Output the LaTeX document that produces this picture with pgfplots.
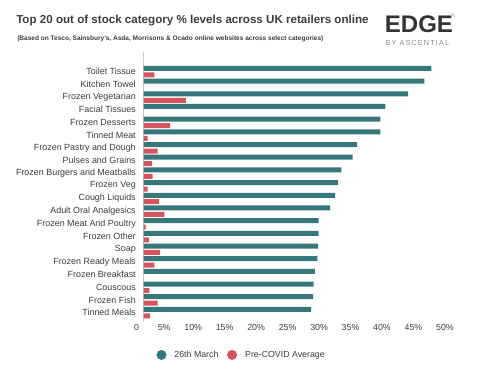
\documentclass[border=0pt]{standalone}
\usepackage{fontspec}
\setmainfont{Liberation Sans}
\usepackage{pgfplots}
\pgfplotsset{compat=1.18}
\usepackage{pgfplotstable}
\definecolor{edgeteal}{RGB}{53,119,122}
\definecolor{edgered}{RGB}{217,83,92}
\definecolor{txt}{RGB}{60,60,60}
\pgfplotstableread{
y march pre
19 45.7 1.7
18 44.6 0
17 42.0 6.7
16 38.4 0
15 37.6 4.2
14 37.6 0.6
13 33.9 2.2
12 33.2 1.3
11 31.4 1.4
10 30.9 0.6
9 30.4 2.4
8 29.6 3.3
7 27.8 0.3
6 27.8 0.8
5 27.7 2.6
4 27.6 1.7
3 27.2 0
2 27.0 0.9
1 26.9 2.2
0 26.6 1.0
}\data
\begin{document}
\begin{tikzpicture}
\path[use as bounding box] (0,0) rectangle (360pt,-282.75pt);
\node[anchor=west, inner sep=0pt, font=\bfseries\fontsize{8.7}{10}\selectfont, text=txt] at (12pt,-15.4pt) {Top 20 out of stock category \% levels across UK retailers online};
\node[anchor=west, inner sep=0pt, font=\bfseries\fontsize{4.9}{5.5}\selectfont, text=txt] at (12.75pt,-29pt) {(Based on Tesco, Sainsbury's, Asda, Morrisons \& Ocado online websites across select categories)};
\node[anchor=west, inner sep=0pt, font=\bfseries\fontsize{18}{20}\selectfont, text=black!80] at (288.5pt,-18.5pt) {EDGE};
\node[anchor=west, inner sep=0pt, font=\fontsize{7}{8}\selectfont, text=black!40] at (338pt,-13pt) {\textasciicircum};
\node[anchor=west, inner sep=0pt, font=\fontsize{5.5}{6}\selectfont\addfontfeatures{LetterSpace=15}, text=black!45] at (289pt,-32pt) {BY ASCENTIAL};
\begin{axis}[
  at={(107.8pt,-39pt)}, anchor=north west,
  scale only axis, width=236pt, height=202.5pt,
  xmin=0, xmax=50, ymin=-0.74, ymax=20.55,
  xbar, bar width=3.75pt,
  axis lines*=left,
  x axis line style={draw=none},
  y axis line style={draw=black!20, line width=0.6pt},
  major tick length=0pt,
  xtick={0,5,...,50},
  xticklabels={0,5\%,10\%,15\%,20\%,25\%,30\%,35\%,40\%,45\%,50\%},
  ytick={0,...,19},
  yticklabels={Tinned Meals,Frozen Fish,Couscous,Frozen Breakfast,Frozen Ready Meals,Soap,Frozen Other,Frozen Meat And Poultry,Adult Oral Analgesics,Cough Liquids,Frozen Veg,Frozen Burgers and Meatballs,Pulses and Grains,Frozen Pastry and Dough,Tinned Meat,Frozen Desserts,Facial Tissues,Frozen Vegetarian,Kitchen Towel,Toilet Tissue},
  xticklabel style={anchor=north east, inner sep=0pt, xshift=-3.3pt, yshift=-1.5pt, font=\fontsize{6.6}{7}\selectfont, text=txt},
  yticklabel style={anchor=east, inner sep=0pt, xshift=-5.8pt, font=\fontsize{6.7}{7}\selectfont, text=txt},
  legend style={at={(axis description cs:0.312,-0.122)}, anchor=center, draw=none, fill=none, legend columns=2, font=\fontsize{6.6}{7}\selectfont, text=txt, /tikz/every even column/.append style={column sep=4.5pt}},
  legend cell align=left,
]
\addplot[draw=none, fill=edgeteal, bar shift=2.4pt, legend image code/.code={\fill[edgeteal] (3.75pt,0pt) circle (3.75pt); \path (0pt,0pt) -- (11.5pt,0pt);}] table[x=march, y=y] {\data};
\addlegendentry{26th March}
\addplot[draw=none, fill=edgered, bar shift=-2.45pt, legend image code/.code={\fill[edgered] (3.75pt,0pt) circle (3.75pt); \path (0pt,0pt) -- (11.5pt,0pt);}] table[x=pre, y=y] {\data};
\addlegendentry{Pre-COVID Average}
\end{axis}
\end{tikzpicture}
\end{document}
